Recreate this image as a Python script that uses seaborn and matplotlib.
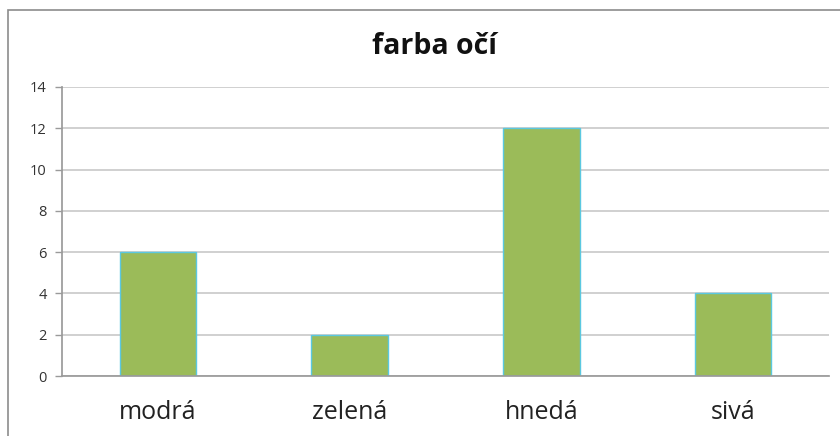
import matplotlib
matplotlib.use("Agg")
import matplotlib.pyplot as plt
import seaborn as sns
import pandas as pd
from matplotlib.patches import Rectangle

categories = ["modrá", "zelená", "hnedá", "sivá"]
values = [6, 2, 12, 4]
yticks = [0, 2, 4, 6, 8, 10, 12, 14]

sns.set_theme(style="white")
plt.rcParams['font.family'] = ['Open Sans', 'DejaVu Sans']

W, H = 840, 436
fig = plt.figure(figsize=(W / 100, H / 100), dpi=100)
fig.patch.set_facecolor("white")

# outer chart border
fig.patches.append(Rectangle((8 / W, -0.05), 1.1, 1 - 10 / H + 0.05,
                             transform=fig.transFigure, fill=False,
                             edgecolor="#8c8c8c", linewidth=1.2))

left, right = 62 / W, 829 / W
bottom, top = 1 - 376 / H, 1 - 87 / H
ax = fig.add_axes([left, bottom, right - left, top - bottom])

df = pd.DataFrame({"cat": categories, "val": values})
sns.barplot(data=df, x="cat", y="val", ax=ax, color="#9BBB59",
            saturation=1, width=0.4, edgecolor="#5BC8E0", linewidth=1.0)

ax.set_ylim(0, 14)
ax.set_yticks(yticks)
ax.set_yticklabels([str(t) for t in yticks], fontsize=10.5, color="#333333")
ax.set_xlim(-0.5, len(categories) - 0.5)
ax.set_xlabel("")
ax.set_ylabel("")
ax.tick_params(axis="x", length=0, labelsize=18, pad=17, labelcolor="#222222")
ax.tick_params(axis="y", length=5, width=1, color="#9a9a9a", pad=6, left=True)
ax.grid(axis="y", color="#c8c8c8", linewidth=1.2)
ax.set_axisbelow(True)
for s in ["top", "right"]:
    ax.spines[s].set_visible(False)
ax.spines["left"].set_color("#9a9a9a")
ax.spines["bottom"].set_color("#9a9a9a")

fig.text(434 / W, 1 - 47 / H, "farba očí", ha="center", va="center",
         fontsize=20.5, fontweight="bold", color="#111111")

fig.savefig("out.png", dpi=100)
